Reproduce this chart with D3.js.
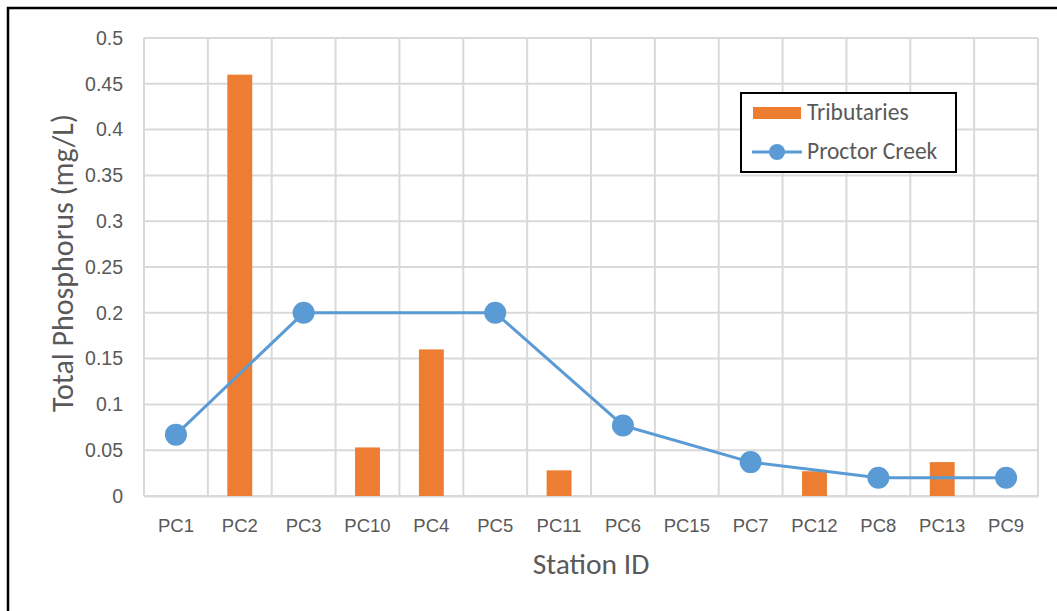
<!DOCTYPE html>
<html>
<head>
<meta charset="utf-8">
<script src="https://cdn.jsdelivr.net/npm/d3@7"></script>
<style>
  html, body { margin: 0; padding: 0; background: #fff; }
  svg { display: block; font-family: Carlito, Lato, "Open Sans", sans-serif; }
</style>
</head>
<body>
<svg id="chart" width="1057" height="611"></svg>
<script>
// Station order along the creek
const stations = ["PC1", "PC2", "PC3", "PC10", "PC4", "PC5", "PC11", "PC6", "PC15", "PC7", "PC12", "PC8", "PC13", "PC9"];
// Tributary samples (mg/L); null where no tributary was sampled
const tributaries = [null, 0.46, null, 0.053, 0.16, null, 0.028, null, null, null, 0.027, null, 0.037, null];
// Main-stem Proctor Creek samples (mg/L)
const proctorCreek = [0.067, null, 0.2, null, null, 0.2, null, 0.077, null, 0.037, null, 0.02, null, 0.02];
const yTicks = [0, 0.05, 0.1, 0.15, 0.2, 0.25, 0.3, 0.35, 0.4, 0.45, 0.5];

const svg = d3.select("#chart");
const W = 1057, H = 611;
const plot = { left: 144, right: 1038, top: 38, bottom: 496 };

const orange = "#ED7D31", blue = "#5B9BD5", grid = "#D9D9D9", text = "#595959";

// Outer frame (top and left edges)
svg.append("path")
  .attr("d", `M8,${H} L8,8 L${W},8`)
  .attr("fill", "none").attr("stroke", "#000").attr("stroke-width", 2.5);

const x = d3.scaleBand().domain(stations).range([plot.left, plot.right]);
const y = d3.scaleLinear().domain([0, 0.5]).range([plot.bottom, plot.top]);

// Horizontal gridlines
svg.append("g").selectAll("line").data(yTicks).join("line")
  .attr("x1", plot.left).attr("x2", plot.right)
  .attr("y1", d => y(d)).attr("y2", d => y(d))
  .attr("stroke", grid).attr("stroke-width", 2);

// Vertical gridlines at station boundaries
const bounds = stations.map(s => x(s)).concat([plot.right]);
svg.append("g").selectAll("line").data(bounds).join("line")
  .attr("x1", d => d).attr("x2", d => d)
  .attr("y1", plot.top).attr("y2", plot.bottom)
  .attr("stroke", grid).attr("stroke-width", 2);

// Y axis labels
const yAxis = d3.axisLeft(y).tickValues(yTicks).tickSize(0).tickPadding(21)
  .tickFormat(d => d === 0 ? "0" : String(+d.toFixed(2)));
const gy = svg.append("g").attr("transform", `translate(${plot.left},0)`).call(yAxis);
gy.select(".domain").remove();
gy.selectAll("text").attr("fill", text).attr("font-size", 19.5).attr("font-family", null);

// X axis labels
const xAxis = d3.axisBottom(x).tickSize(0).tickPadding(23);
const gx = svg.append("g").attr("transform", `translate(0,${plot.bottom})`).call(xAxis);
gx.select(".domain").attr("stroke", grid).attr("stroke-width", 2);
gx.selectAll("text").attr("fill", text).attr("font-size", 18.5).attr("font-family", null);

// Tributary bars
const barW = x.bandwidth() * 0.39;
svg.append("g").selectAll("rect")
  .data(stations.map((s, i) => ({ s, v: tributaries[i] })).filter(d => d.v != null))
  .join("rect")
  .attr("x", d => x(d.s) + x.bandwidth() / 2 - barW / 2)
  .attr("width", barW)
  .attr("y", d => y(d.v))
  .attr("height", d => y(0) - y(d.v))
  .attr("fill", orange);

// Proctor Creek line and markers
const pc = stations.map((s, i) => ({ s, v: proctorCreek[i] })).filter(d => d.v != null);
const cx = d => x(d.s) + x.bandwidth() / 2;
svg.append("path").datum(pc)
  .attr("d", d3.line().x(cx).y(d => y(d.v)))
  .attr("fill", "none").attr("stroke", blue).attr("stroke-width", 3)
  .attr("stroke-linejoin", "round");
svg.append("g").selectAll("circle").data(pc).join("circle")
  .attr("cx", cx).attr("cy", d => y(d.v)).attr("r", 11)
  .attr("fill", blue);

// Axis titles
svg.append("text")
  .attr("transform", `translate(73,263) rotate(-90)`)
  .attr("text-anchor", "middle").attr("fill", text).attr("font-size", 30)
  .text("Total Phosphorus (mg/L)");
svg.append("text")
  .attr("x", 591).attr("y", 574)
  .attr("text-anchor", "middle").attr("fill", text).attr("font-size", 29.5)
  .text("Station ID");

// Legend
const lg = svg.append("g");
lg.append("rect").attr("x", 741).attr("y", 93).attr("width", 215).attr("height", 79)
  .attr("fill", "#fff").attr("stroke", "#000").attr("stroke-width", 2);
lg.append("rect").attr("x", 753).attr("y", 107).attr("width", 48).attr("height", 12).attr("fill", orange);
lg.append("text").attr("x", 807).attr("y", 120).attr("fill", text).attr("font-size", 23.5).text("Tributaries");
lg.append("line").attr("x1", 752).attr("x2", 802).attr("y1", 152).attr("y2", 152)
  .attr("stroke", blue).attr("stroke-width", 3);
lg.append("circle").attr("cx", 777).attr("cy", 152).attr("r", 8).attr("fill", blue);
lg.append("text").attr("x", 807).attr("y", 159).attr("fill", text).attr("font-size", 23.5).text("Proctor Creek");
</script>
</body>
</html>
